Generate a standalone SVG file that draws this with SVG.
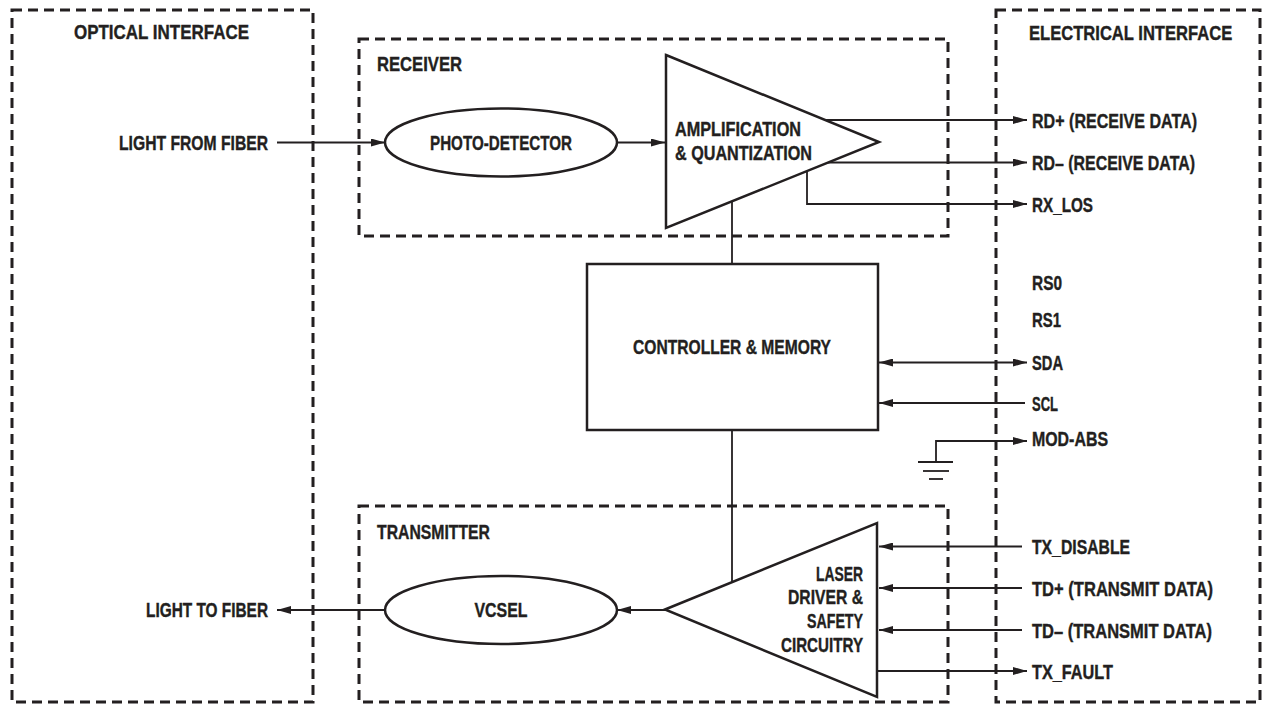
<svg xmlns="http://www.w3.org/2000/svg" width="1262" height="704" viewBox="0 0 1262 704">
<style>
text{font-family:"Liberation Sans",Arial,sans-serif;font-weight:bold;font-size:21px;fill:#231f20;stroke:#231f20;stroke-width:0.4}
.box{fill:none;stroke:#231f20;stroke-width:3;stroke-dasharray:10 6}
.shape{fill:#fff;stroke:#231f20;stroke-width:2.5}
.ln{fill:none;stroke:#231f20;stroke-width:1.8}
.arr{marker-end:url(#ah)}
.mid{text-anchor:middle}
.end{text-anchor:end}
</style>
<defs>
<marker id="ah" viewBox="0 0 14 8" refX="14" refY="4" markerWidth="14" markerHeight="8" markerUnits="userSpaceOnUse" orient="auto">
<path d="M0,0 L14,4 L0,8 z" fill="#231f20"/>
</marker>
<marker id="ahs" viewBox="0 0 14 8" refX="0" refY="4" markerWidth="14" markerHeight="8" markerUnits="userSpaceOnUse" orient="auto">
<path d="M14,0 L0,4 L14,8 z" fill="#231f20"/>
</marker>
</defs>
<rect width="1262" height="704" fill="#fff"/>

<g id="optical-interface">
<rect class="box" x="12" y="10" width="301" height="692"/>
<text x="74" y="39" textLength="175" lengthAdjust="spacingAndGlyphs">OPTICAL INTERFACE</text>
<text x="119" y="150" textLength="149" lengthAdjust="spacingAndGlyphs">LIGHT FROM FIBER</text>
<text x="146" y="617" textLength="122" lengthAdjust="spacingAndGlyphs">LIGHT TO FIBER</text>
</g>

<g id="electrical-interface">
<rect class="box" x="996" y="10" width="264" height="692"/>
<text transform="translate(1029,40) scale(0.79,1)" x="0" y="0">ELECTRICAL INTERFACE</text>
<text x="1032" y="128" textLength="165" lengthAdjust="spacingAndGlyphs">RD+ (RECEIVE DATA)</text>
<text x="1032" y="170" textLength="163" lengthAdjust="spacingAndGlyphs">RD– (RECEIVE DATA)</text>
<text x="1032" y="212" textLength="61" lengthAdjust="spacingAndGlyphs">RX_LOS</text>
<text x="1032" y="290" textLength="30" lengthAdjust="spacingAndGlyphs">RS0</text>
<text x="1032" y="327" textLength="29" lengthAdjust="spacingAndGlyphs">RS1</text>
<text x="1032" y="370" textLength="31" lengthAdjust="spacingAndGlyphs">SDA</text>
<text x="1032" y="411" textLength="26" lengthAdjust="spacingAndGlyphs">SCL</text>
<text x="1032" y="446" textLength="76" lengthAdjust="spacingAndGlyphs">MOD-ABS</text>
<text x="1032" y="554" textLength="98" lengthAdjust="spacingAndGlyphs">TX_DISABLE</text>
<text x="1032" y="596" textLength="181" lengthAdjust="spacingAndGlyphs">TD+ (TRANSMIT DATA)</text>
<text x="1032" y="638" textLength="180" lengthAdjust="spacingAndGlyphs">TD– (TRANSMIT DATA)</text>
<text x="1032" y="679" textLength="81" lengthAdjust="spacingAndGlyphs">TX_FAULT</text>
</g>

<g id="receiver">
<rect class="box" x="359" y="39" width="589" height="197"/>
<text x="377" y="71" textLength="85" lengthAdjust="spacingAndGlyphs">RECEIVER</text>
</g>

<g id="transmitter">
<rect class="box" x="359" y="506" width="589" height="196"/>
<text x="377" y="539" textLength="113" lengthAdjust="spacingAndGlyphs">TRANSMITTER</text>
</g>

<g id="connectors">
<line class="ln arr" x1="277" y1="142.5" x2="385" y2="142.5"/>
<line class="ln arr" x1="617" y1="142.5" x2="665" y2="142.5"/>
<line class="ln arr" x1="826" y1="120" x2="1027" y2="120"/>
<line class="ln arr" x1="828" y1="162.5" x2="1027" y2="162.5"/>
<path class="ln arr" d="M807,171 V204 H1027"/>
<line class="ln" x1="732" y1="201" x2="732" y2="264"/>
<line class="ln" x1="732" y1="430" x2="732" y2="582"/>
<line class="ln arr" x1="879" y1="362.5" x2="1027" y2="362.5" marker-start="url(#ahs)"/>
<line class="ln arr" x1="1025" y1="403" x2="879" y2="403"/>
<path class="ln arr" d="M936,462 V441 H1027"/>
<line class="ln" x1="918" y1="462" x2="953" y2="462" stroke-width="2.2"/>
<line class="ln" x1="923" y1="471" x2="949" y2="471" stroke-width="2.2"/>
<line class="ln" x1="929" y1="479" x2="943" y2="479" stroke-width="2.2"/>
<line class="ln arr" x1="1022" y1="546.5" x2="879" y2="546.5"/>
<line class="ln arr" x1="1022" y1="588" x2="879" y2="588"/>
<line class="ln arr" x1="1022" y1="630" x2="879" y2="630"/>
<line class="ln arr" x1="878" y1="671" x2="1027" y2="671"/>
<line class="ln arr" x1="665" y1="610" x2="617" y2="610"/>
<line class="ln arr" x1="385" y1="610" x2="277" y2="610"/>
</g>

<g id="photo-detector">
<ellipse class="shape" cx="501" cy="142.5" rx="116" ry="34"/>
<text class="mid" x="501" y="150" textLength="142" lengthAdjust="spacingAndGlyphs">PHOTO-DETECTOR</text>
</g>

<g id="amplification">
<path class="shape" d="M666,55 L879,142 L666,228 Z"/>
<text x="675" y="136" textLength="126" lengthAdjust="spacingAndGlyphs">AMPLIFICATION</text>
<text x="675" y="160" textLength="137" lengthAdjust="spacingAndGlyphs">&amp; QUANTIZATION</text>
</g>

<g id="controller">
<rect class="shape" x="587" y="264" width="291" height="166"/>
<text class="mid" x="732" y="354" textLength="198" lengthAdjust="spacingAndGlyphs">CONTROLLER &amp; MEMORY</text>
</g>

<g id="laser-driver">
<path class="shape" d="M665,609.5 L877,523 L877,697 Z"/>
<text class="end" x="863" y="581" textLength="47" lengthAdjust="spacingAndGlyphs">LASER</text>
<text class="end" x="863" y="604" textLength="75" lengthAdjust="spacingAndGlyphs">DRIVER &amp;</text>
<text class="end" x="863" y="628" textLength="56" lengthAdjust="spacingAndGlyphs">SAFETY</text>
<text class="end" x="863" y="652" textLength="82" lengthAdjust="spacingAndGlyphs">CIRCUITRY</text>
</g>

<g id="vcsel">
<ellipse class="shape" cx="501" cy="610" rx="116" ry="34"/>
<text class="mid" x="501" y="617" textLength="53" lengthAdjust="spacingAndGlyphs">VCSEL</text>
</g>
</svg>
